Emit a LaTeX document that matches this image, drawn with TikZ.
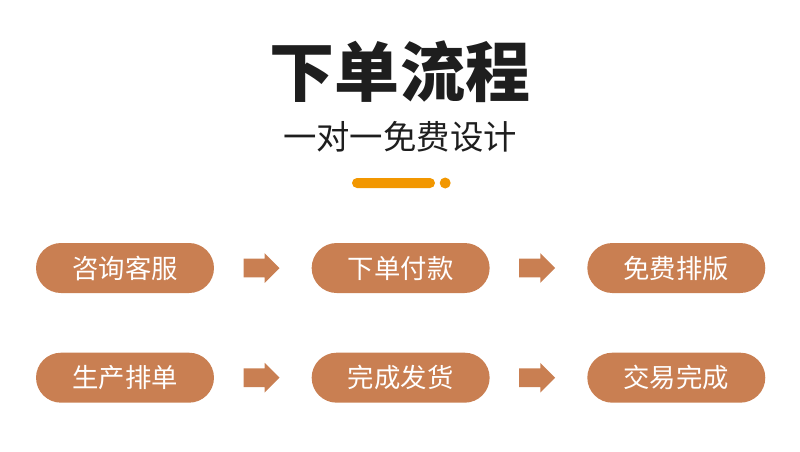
\documentclass[tikz,border=0pt]{standalone}
\usepackage{fontspec}
\newfontfamily\cjk{Noto Sans CJK SC}
\usepackage{tikz}
\usetikzlibrary{positioning, shapes.arrows}
\definecolor{brique}{RGB}{201, 127, 82}
\definecolor{orangevif}{RGB}{242, 151, 0}
\definecolor{encre}{RGB}{30, 30, 30}

\begin{document}
\begin{tikzpicture}[x=0.02cm, y=-0.02cm,
    etape/.style={rectangle, rounded corners=0.5cm, fill=brique, text=white,
                  minimum width=3.56cm, minimum height=1cm, inner sep=0pt,
                  font=\cjk\fontsize{15}{17}\selectfont},
    fleche/.style={single arrow, fill=brique, draw=none, inner xsep=0pt, inner ysep=0.18cm,
                   minimum height=0.72cm, minimum width=0.58cm,
                   single arrow head extend=0.11cm, xshift=-0.12cm}]
    \useasboundingbox (0,0) rectangle (800,451);
    % titre et sous-titre
    \node[font=\cjk\bfseries\fontsize{37}{40}\selectfont, text=encre] (titre) at (400,72) {下单流程};
    \node[font=\cjk\fontsize{19}{22}\selectfont, text=encre] (soustitre) at (400,137) {一对一免费设计};
    \node[rectangle, rounded corners=0.1cm, fill=orangevif, minimum width=1.66cm,
          minimum height=0.2cm, inner sep=0pt] (trait) at (393.5,183) {};
    \node[circle, fill=orangevif, minimum size=0.22cm, inner sep=0pt, right=0.08cm of trait] (point) {};
    % premiere ligne
    \node[etape] (e1) at (125,268) {咨询客服};
    \node[etape, right=1.94cm of e1] (e2) {下单付款};
    \node[etape, right=1.94cm of e2] (e3) {免费排版};
    \path (e1) -- node[fleche] (f1) {} (e2);
    \path (e2) -- node[fleche] (f2) {} (e3);
    % deuxieme ligne
    \node[etape, below=1.18cm of e1] (e4) {生产排单};
    \node[etape, right=1.94cm of e4] (e5) {完成发货};
    \node[etape, right=1.94cm of e5] (e6) {交易完成};
    \path (e4) -- node[fleche] (f3) {} (e5);
    \path (e5) -- node[fleche] (f4) {} (e6);
\end{tikzpicture}
\end{document}
